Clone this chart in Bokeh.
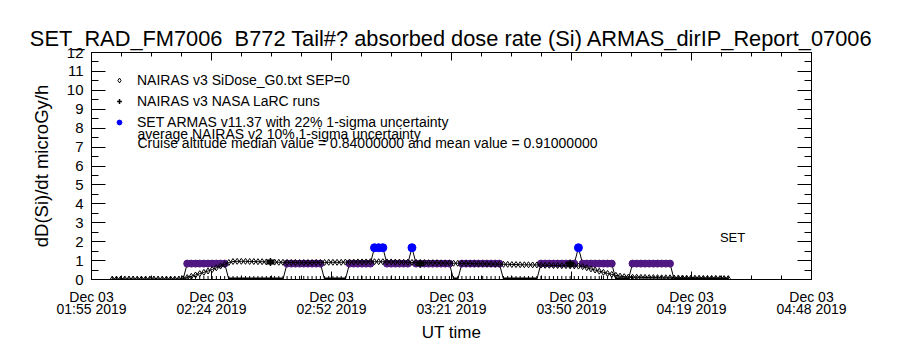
import numpy as np
from bokeh.plotting import figure
from bokeh.models import (Range1d, LinearAxis, FixedTicker, Label, Legend,
                          LegendItem)
from bokeh.embed import file_html
from bokeh.resources import INLINE

FONT = "Liberation Sans"

# ---------------- data (time = minutes after Dec 03 2019 01:55 UT) ----------------
x_tick_minutes = [0.0, 28.83, 57.67, 86.5, 115.33, 144.17, 173.0]
x_tick_labels = ["Dec 03\n01:55 2019", "Dec 03\n02:24 2019", "Dec 03\n02:52 2019",
                 "Dec 03\n03:21 2019", "Dec 03\n03:50 2019", "Dec 03\n04:19 2019",
                 "Dec 03\n04:48 2019"]
y_ticks = [0, 1, 2, 3, 4, 5, 6, 7, 8, 9, 10, 11, 12]

# NAIRAS v3 SiDose_G0.txt SEP=0 (1-min cadence, t = 5 .. 153)
nairas_t = list(range(5, 154))
nairas_v = [0.02, 0.02, 0.02, 0.02, 0.02, 0.02, 0.02, 0.02, 0.02, 0.02, 0.02, 0.02, 0.02, 0.02, 0.02, 0.02, 0.02,
            0.04, 0.10, 0.17, 0.24, 0.31, 0.38, 0.45, 0.53, 0.62, 0.71, 0.80, 0.90, 0.95,
            0.96, 0.96, 0.96, 0.95, 0.95, 0.94, 0.94, 0.93, 0.92, 0.92, 0.91, 0.91,
            0.90, 0.90, 0.90, 0.89, 0.89, 0.89, 0.89, 0.90, 0.90, 0.90, 0.91, 0.91, 0.91, 0.91,
            0.92, 0.92, 0.92, 0.93, 0.93, 0.93, 0.94, 0.94, 0.94, 0.94, 0.93, 0.93, 0.92,
            0.92, 0.91, 0.91, 0.90, 0.90, 0.89, 0.89, 0.88, 0.88, 0.88, 0.87, 0.87, 0.87,
            0.86, 0.86, 0.85, 0.85, 0.84, 0.84, 0.83, 0.83, 0.82, 0.82, 0.81, 0.81,
            0.80, 0.80, 0.79, 0.79, 0.78, 0.78, 0.78, 0.77, 0.77,
            0.76, 0.75, 0.75, 0.74, 0.74, 0.73, 0.73, 0.72, 0.72, 0.71,
            0.68, 0.62, 0.56, 0.50, 0.44, 0.38, 0.32, 0.27, 0.22, 0.18, 0.15, 0.13,
            0.12, 0.12, 0.11, 0.11, 0.10, 0.10, 0.10, 0.09, 0.09, 0.09,
            0.08, 0.08, 0.08, 0.07, 0.07, 0.07, 0.07, 0.06, 0.06, 0.06, 0.06, 0.05, 0.05, 0.05]

# NAIRAS v3 NASA LaRC runs (+) with 10% 1-sigma uncertainty
larc_t = [43, 79, 115]
larc_v = [0.92, 0.83, 0.83]
larc_rel_err = 0.10

# NAIRAS v3 NASA LaRC zero-level samples along the baseline
base_t = list(range(5, 154))
base_v = [0.0] * len(base_t)

# SET ARMAS v11.37 (1-min cadence, t = 22 .. 153)
armas_t = list(range(22, 154))
armas_v = [0.0,
           0.84, 0.84, 0.84, 0.84, 0.84, 0.84, 0.84, 0.84, 0.84, 0.84,
           0.0, 0.0, 0.0, 0.0, 0.0, 0.0, 0.0, 0.0, 0.0, 0.0, 0.0, 0.0, 0.0, 0.0,
           0.84, 0.84, 0.84, 0.84, 0.84, 0.84, 0.84, 0.84, 0.84,
           0.0, 0.0, 0.0, 0.0, 0.0, 0.0,
           0.84, 0.84, 0.84, 0.84, 0.84, 0.84,
           1.68, 1.68, 1.68,
           0.84, 0.84, 0.84, 0.84, 0.84, 0.84,
           1.68,
           0.84, 0.84, 0.84, 0.84, 0.84, 0.84, 0.84, 0.84, 0.84,
           0.0, 0.0,
           0.84, 0.84, 0.84, 0.84, 0.84, 0.84, 0.84, 0.84, 0.84, 0.84,
           0.0, 0.0, 0.0, 0.0, 0.0, 0.0, 0.0, 0.0, 0.0,
           0.84, 0.84, 0.84, 0.84, 0.84, 0.84, 0.84, 0.84, 0.84,
           1.68,
           0.84, 0.84, 0.84, 0.84, 0.84, 0.84, 0.84, 0.84,
           0.0, 0.0, 0.0, 0.0,
           0.84, 0.84, 0.84, 0.84, 0.84, 0.84, 0.84, 0.84, 0.84, 0.84,
           0.0, 0.0, 0.0, 0.0, 0.0, 0.0, 0.0, 0.0, 0.0, 0.0, 0.0, 0.0, 0.0, 0.0]

title_text = "SET_RAD_FM7006 \u00a0B772 Tail#? absorbed dose rate (Si) ARMAS_dirIP_Report_07006"
y_label = "dD(Si)/dt microGy/h"
x_label = "UT time"
legend_labels = ["NAIRAS v3 SiDose_G0.txt SEP=0",
                 "NAIRAS v3 NASA LaRC runs",
                 "SET ARMAS v11.37 with 22% 1-sigma uncertainty"]
note_1 = "average NAIRAS v2 10% 1-sigma uncertainty"
note_2 = "Cruise altitude median value = 0.84000000 and mean value = 0.91000000"

PURPLE = "#4F1781"
BLUE = "#0000FF"

# ---------------- figure ----------------
p = figure(width=900, height=350, output_backend="svg", toolbar_location=None,
           x_range=Range1d(0, 173), y_range=Range1d(0, 12),
           min_border_left=91, min_border_right=89, min_border_top=52, min_border_bottom=71,
           background_fill_color="white", border_fill_color="white")
p.xgrid.visible = False
p.ygrid.visible = False
p.outline_line_color = "black"

p.title.text = title_text
p.title.align = "center"
p.title.text_font = FONT
p.title.text_font_size = "21.8px"
p.title.text_font_style = "normal"
p.title.text_color = "black"
p.title.standoff = 3

x_minor = []
for a, b in zip(x_tick_minutes[:-1], x_tick_minutes[1:]):
    x_minor += [a + (b - a) * k / 4 for k in (1, 2, 3)]
y_minor = [v + 0.5 for v in y_ticks[:-1]]

xt = FixedTicker(ticks=x_tick_minutes, minor_ticks=x_minor)
yt = FixedTicker(ticks=y_ticks, minor_ticks=y_minor)

def style_axis(ax, major_len, minor_len):
    ax.major_tick_in = major_len
    ax.major_tick_out = 0
    ax.minor_tick_in = minor_len
    ax.minor_tick_out = 0
    ax.axis_line_color = "black"
    ax.major_tick_line_color = "black"
    ax.minor_tick_line_color = "black"
    ax.major_label_text_font = FONT
    ax.major_label_text_color = "black"
    ax.axis_label_text_font = FONT
    ax.axis_label_text_font_style = "normal"
    ax.axis_label_text_color = "black"

xb = p.xaxis[0]
xb.ticker = xt
style_axis(xb, 8, 4)
xb.major_label_overrides = {t: s for t, s in zip(x_tick_minutes, x_tick_labels)}
xb.major_label_text_font_size = "14px"
xb.major_label_text_line_height = 0.8
xb.major_label_standoff = 9
xb.axis_label = x_label
xb.axis_label_text_font_size = "17px"
xb.axis_label_standoff = 3

yl = p.yaxis[0]
yl.ticker = yt
style_axis(yl, 14, 7)
yl.major_label_text_font_size = "15px"
yl.major_label_standoff = 8
yl.axis_label = y_label
yl.axis_label_text_font_size = "18.5px"
yl.axis_label_standoff = 12

# mirrored box axes (ticks only, no labels)
xtop = LinearAxis(ticker=xt)
style_axis(xtop, 8, 4)
xtop.major_label_text_font_size = "1px"
xtop.major_label_text_color = None
xtop.major_label_standoff = 0
p.add_layout(xtop, "above")

yr = LinearAxis(ticker=yt)
style_axis(yr, 14, 7)
yr.major_label_text_font_size = "1px"
yr.major_label_text_color = None
yr.major_label_standoff = 0
p.add_layout(yr, "right")

# ---------------- glyphs ----------------
a_t = np.array(armas_t, dtype=float)
a_v = np.array(armas_v, dtype=float)
zero_v = np.where(a_v == 0, a_v, np.nan)
plat_mask = (a_v > 0) & (a_v < 1.2)
spike_mask = a_v >= 1.2

# baseline "+" samples
p.line(base_t, base_v, line_color="black", line_width=1)
p.scatter(base_t, base_v, marker="cross", size=7, line_color="black", line_width=1)

# ARMAS connecting line and zero segments
p.line(a_t, a_v, line_color="black", line_width=1)
p.line(a_t, zero_v, line_color="black", line_width=4)
# ARMAS cruise plateau points
p.scatter(a_t[plat_mask], a_v[plat_mask], marker="circle", size=7,
          fill_color=PURPLE, line_color=PURPLE)

# NAIRAS SiDose diamonds
p.line(nairas_t, nairas_v, line_color="black", line_width=1)
r_nairas = p.scatter(nairas_t, nairas_v, marker="diamond", size=6,
                     fill_color=None, line_color="black", line_width=1)

# NASA LaRC runs with error bars
lt = np.array(larc_t, dtype=float)
lv = np.array(larc_v, dtype=float)
lo = lv * (1 - larc_rel_err)
hi = lv * (1 + larc_rel_err)
p.segment(lt, lo, lt, hi, line_color="black", line_width=1)
p.scatter(lt, lo, marker="dash", size=8, line_color="black", line_width=1.5)
p.scatter(lt, hi, marker="dash", size=8, line_color="black", line_width=1.5)
r_larc = p.scatter(lt, lv, marker="cross", size=8, line_color="black", line_width=1.5)

# ARMAS spikes (blue)
r_armas = p.scatter(a_t[spike_mask], a_v[spike_mask], marker="circle", size=8,
                    fill_color=BLUE, line_color=BLUE)

# ---------------- legend (one single-row legend per entry) & notes ----------------
for lab, rend, ybot in zip(legend_labels, [r_nairas, r_larc, r_armas], [191, 170, 149]):
    leg = Legend(items=[LegendItem(label=lab, renderers=[rend])],
                 location=(22, ybot), glyph_width=12, glyph_height=12, label_height=12,
                 label_width=10, spacing=0, padding=0, margin=0, label_standoff=12,
                 border_line_color=None, background_fill_alpha=0,
                 label_text_font=FONT, label_text_font_size="14px",
                 label_text_color="black")
    p.add_layout(leg)

p.add_layout(Label(x=46, y=146, x_units="screen", y_units="screen", text=note_1,
                   text_font=FONT, text_font_size="14px", text_color="black",
                   text_baseline="alphabetic"))
p.add_layout(Label(x=46, y=137, x_units="screen", y_units="screen", text=note_2,
                   text_font=FONT, text_font_size="14px", text_color="black",
                   text_baseline="alphabetic"))
p.add_layout(Label(x=151, y=2.2, text="SET", text_font=FONT, text_font_size="13px",
                   text_color="black", text_baseline="alphabetic"))

open("out.html", "w").write(file_html(p, INLINE))
